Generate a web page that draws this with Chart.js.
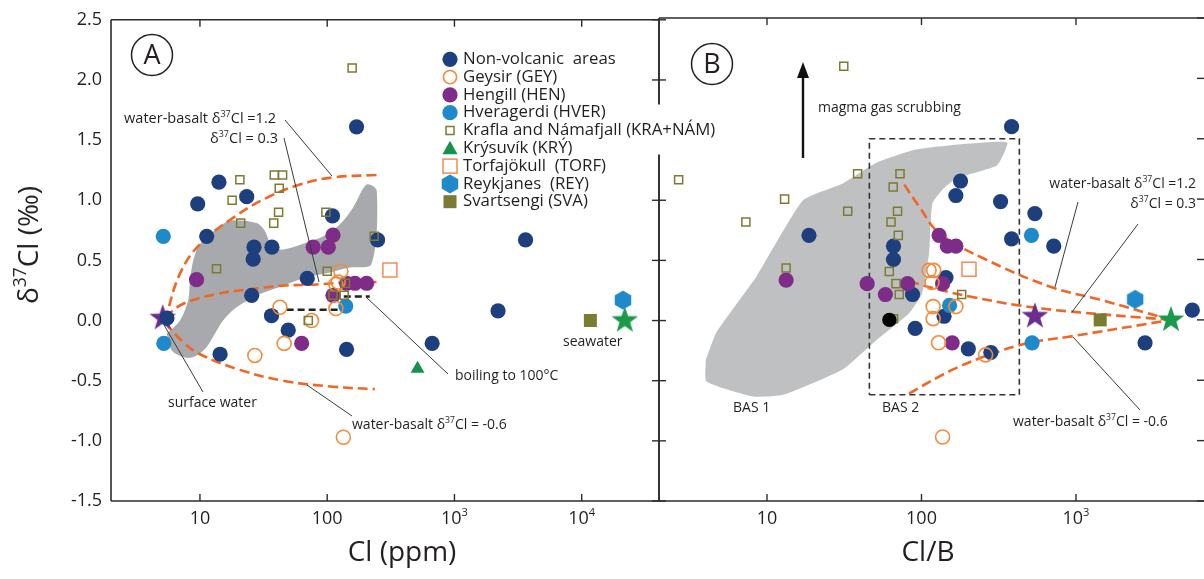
<!DOCTYPE html>
<html>
<head>
<meta charset="utf-8">
<script src="https://cdn.jsdelivr.net/npm/chart.js@4.4.1/dist/chart.umd.min.js"></script>
<style>
  body { margin: 0; background: #fff; width: 1204px; height: 579px; overflow: hidden; position: relative; }
  #wrapA { position: absolute; left: 0; top: 0; width: 730px; height: 579px; z-index: 2; }
  #wrapB { position: absolute; left: 600px; top: 0; width: 604px; height: 579px; z-index: 1; }
</style>
</head>
<body>
<div id="wrapB"><canvas id="chartB"></canvas></div>
<div id="wrapA"><canvas id="chartA"></canvas></div>
<script>
// ---------- data ----------
const yTicks = [-1.5, -1.0, -0.5, 0, 0.5, 1.0, 1.5, 2.0, 2.5];
const xTicksA = [10, 100, 1000, 10000];
const xTicksB = [10, 100, 1000];
const xTickText = { 10: ['10'], 100: ['100'], 1000: ['10', '^3'], 10000: ['10', '^4'] };

// panel A: Cl (ppm) vs d37Cl
const nonVolcanicA = [[9.6,0.97],[14.1,1.15],[23.3,1.03],[11.3,0.70],[26.6,0.61],[26.2,0.51],[36.8,0.61],[170,1.61],[110,0.87],[69.7,0.35],[249,0.67],[3620,0.67],[5.5,0.02],[25.5,0.21],[36.5,0.04],[49.4,-0.08],[14.4,-0.28],[142,-0.24],[2200,0.08],[668,-0.19]];
const geysirA = [[27,-0.29],[42.5,0.11],[45.9,-0.19],[75.3,0.0],[117,0.10],[134,-0.97],[128,0.41],[122,0.32],[117,0.30]];
const hengillA = [[9.4,0.34],[77.6,0.61],[102,0.61],[111,0.71],[142,0.31],[165,0.31],[204,0.31],[63,-0.19],[111,0.21]];
const hveragerdiA = [[5.15,0.70],[5.2,-0.19],[140,0.12]];
const kraflaA = [[157,2.10],[20.6,1.17],[17.9,1.0],[38.4,1.21],[44.6,1.21],[42,1.10],[41.5,0.90],[20.9,0.81],[38,0.81],[97.7,0.90],[234,0.70],[13.5,0.43],[100,0.41],[139,0.31],[71,0.0],[111,0.21],[136,0.21]];
const krysuvikA = [[513,-0.40]];
const torfajokullA = [[311,0.42]];
const reykjanesA = [[21100,0.17]];
const svartsengiA = [[11700,0.0]];
const surfaceWaterA = [[5.1,0.02]];
const seawaterA = [[21800,0.0]];
const mixHighA = [[5.3,0.0],[6.97,0.39],[10,0.635],[18.3,0.855],[33.4,1.02],[61.1,1.13],[111,1.19],[244,1.21]];
const mixMidA = [[5.3,0.03],[7.4,0.14],[13.5,0.22],[24.7,0.26],[45.1,0.29],[82.6,0.30],[151,0.32],[244,0.32]];
const mixLowA = [[5.3,-0.02],[7.4,-0.18],[10,-0.28],[20.6,-0.41],[44.9,-0.50],[111,-0.55],[237,-0.57]];
const boilingA1 = [[48,0.09],[126,0.09]];
const boilingA2 = [[135,0.20],[216,0.20]];
const fieldA = [[5.47,-0.11],[6.97,0],[8.09,0.17],[8.34,0.33],[8.85,0.50],[10,0.635],[13.5,0.76],[17.2,0.83],[27.9,0.81],[32.4,0.745],[35.5,0.65],[42.5,0.59],[57.5,0.62],[93,0.70],[126,0.80],[160,0.94],[204,1.13],[245,1.08],[223,0.47],[151,0.44],[105,0.40],[68.9,0.36],[45.1,0.29],[29.6,0.22],[19.4,0.11],[15.2,0],[13.1,-0.11],[11.3,-0.22],[9.42,-0.29],[7.87,-0.31],[6.03,-0.25],[5.47,-0.11]];

// panel B: Cl/B vs d37Cl
const nonVolcanicB = [[18.7,0.70],[383,1.60],[179,1.15],[167,1.03],[325,0.98],[542,0.88],[383,0.67],[718,0.61],[65.9,0.61],[65.9,0.50],[87.5,0.21],[144,0.35],[140,0.03],[91,-0.07],[201,-0.24],[281,-0.27],[2800,-0.19],[5660,0.08]];
const geysirB = [[112,0.41],[120,0.41],[117,0.31],[119,0.11],[119,0.01],[167,0.11],[129,-0.19],[260,-0.29],[137,-0.97]];
const hengillB = [[13.3,0.33],[44.5,0.30],[58.4,0.21],[81.3,0.30],[130,0.70],[147,0.61],[167,0.61],[137,0.30],[158,-0.19]];
const hveragerdiB = [[515,0.70],[520,-0.19],[152,0.12]];
const kraflaB = [[31.4,2.10],[2.68,1.16],[7.3,0.81],[13.0,1.0],[38.6,1.21],[33.3,0.90],[72.6,1.21],[65.6,1.10],[70,0.90],[63.5,0.81],[70.8,0.70],[13.3,0.43],[61.9,0.40],[68.4,0.30],[71.8,0.21],[65.9,0.01],[182,0.21]];
const torfajokullB = [[203,0.42]];
const reykjanesB = [[2415,0.17]];
const svartsengiB = [[1435,0.0]];
const blackB = [[62,0.0]];
const surfaceWaterB = [[542,0.03]];
const seawaterB = [[4120,0.0]];
const mixHighB = [[77.3,1.12],[96.4,0.94],[130,0.72],[261,0.50],[697,0.27],[1400,0.17],[4120,0.0]];
const mixMidB = [[83.2,0.32],[130,0.25],[213,0.19],[427,0.12],[897,0.07],[4120,0.0]];
const mixLowB = [[83,-0.61],[130,-0.47],[167,-0.40],[273,-0.29],[496,-0.19],[897,-0.14],[4120,0.0]];
const bas1B = [[4.02,-0.33],[4.72,-0.10],[8.55,0.36],[17.1,0.99],[30.9,1.13],[50.8,1.30],[92,1.41],[203,1.46],[359,1.47],[309,1.28],[167,1.17],[137,1.08],[118,0.97],[115,0.83],[112,0.55],[101,0.22],[83.3,0.055],[50.8,-0.17],[30.9,-0.41],[12.7,-0.62],[8.13,-0.635],[4.06,-0.51],[4.02,-0.33]];
const bas2B = [[46,-0.62],[430,-0.62],[430,1.5],[46,1.5],[46,-0.62]];

// ---------- styles ----------
const FONT = '"Open Sans", sans-serif';
const INK = '#231f20';
const NAVY = '#1d3f7d', ORANGE = '#f38b3a', PURPLE = '#7f2b88', LBLUE = '#1f8ac9';
const OLIVE = '#7c7b32', GREEN = '#16924a', TORF = '#f48a56', DASH = '#f26522';

function starImage(color) {
  const c = document.createElement('canvas'); c.width = c.height = 30;
  const g = c.getContext('2d'); g.beginPath();
  for (let i = 0; i < 10; i++) {
    const r = i % 2 ? 5.6 : 14, a = -Math.PI / 2 + i * Math.PI / 5;
    g.lineTo(15 + r * Math.cos(a), 15 + r * Math.sin(a));
  }
  g.closePath(); g.fillStyle = color; g.fill();
  return c;
}
function hexImage(color) {
  const c = document.createElement('canvas'); c.width = c.height = 22;
  const g = c.getContext('2d'); g.beginPath();
  for (let i = 0; i < 6; i++) {
    const a = -Math.PI / 2 + i * Math.PI / 3;
    g.lineTo(11 + 9.5 * Math.cos(a), 11 + 9.5 * Math.sin(a));
  }
  g.closePath(); g.fillStyle = color; g.fill();
  return c;
}
const HEX = hexImage(LBLUE);

const sty = {
  nonVolc: { pointStyle: 'circle', pointRadius: 7.6, pointBackgroundColor: NAVY, pointBorderWidth: 0 },
  geysir: { pointStyle: 'circle', pointRadius: 7, pointBackgroundColor: 'rgba(255,255,255,0)', pointBorderColor: ORANGE, pointBorderWidth: 1.6 },
  hengill: { pointStyle: 'circle', pointRadius: 7.6, pointBackgroundColor: PURPLE, pointBorderWidth: 0 },
  hver: { pointStyle: 'circle', pointRadius: 7.6, pointBackgroundColor: LBLUE, pointBorderWidth: 0 },
  krafla: { pointStyle: 'rect', pointRadius: 5.7, pointBackgroundColor: 'rgba(255,255,255,0)', pointBorderColor: OLIVE, pointBorderWidth: 1.5 },
  krysuvik: { pointStyle: 'triangle', pointRadius: 8, pointBackgroundColor: GREEN, pointBorderWidth: 0 },
  torf: { pointStyle: 'rect', pointRadius: 9.9, pointBackgroundColor: 'rgba(255,255,255,0)', pointBorderColor: TORF, pointBorderWidth: 1.5 },
  rey: { pointStyle: HEX, pointRadius: 9 },
  sva: { pointStyle: 'rect', pointRadius: 9.2, pointBackgroundColor: OLIVE, pointBorderWidth: 0 },
  black: { pointStyle: 'circle', pointRadius: 7.2, pointBackgroundColor: '#000', pointBorderWidth: 0 },
  starP: { pointStyle: starImage('#6b2d90'), pointRadius: 14 },
  starG: { pointStyle: starImage('#1a9a48'), pointRadius: 14 }
};

const pts = a => a.map(([x, y]) => ({ x, y }));
const points = (data, s) => Object.assign({ data: pts(data), showLine: false }, s);
const curve = (data, extra) => Object.assign({ data: pts(data), showLine: true, pointRadius: 0, fill: false,
  borderColor: DASH, borderWidth: 2.6, borderDash: [10, 5], tension: 0.4 }, extra || {});
const field = (data, color, tension) => ({ data: pts(data), showLine: true, pointRadius: 0, fill: 'shape',
  backgroundColor: color, borderColor: color, borderWidth: 0, tension });

// bottom-to-top drawing order
function ordered(list) { return list.map((d, i) => Object.assign(d, { order: list.length - i })); }

const datasetsA = ordered([
  field(fieldA, '#a7a9ac', 0.3),
  curve(boilingA1, { borderColor: '#222', borderDash: [7, 4], tension: 0 }),
  curve(boilingA2, { borderColor: '#222', borderDash: [7, 4], tension: 0 }),
  curve(mixHighA), curve(mixMidA), curve(mixLowA),
  points(surfaceWaterA, sty.starP), points(seawaterA, sty.starG),
  points(nonVolcanicA, sty.nonVolc), points(hveragerdiA, sty.hver), points(reykjanesA, sty.rey),
  points(svartsengiA, sty.sva), points(krysuvikA, sty.krysuvik), points(hengillA, sty.hengill),
  points(geysirA, sty.geysir), points(torfajokullA, sty.torf), points(kraflaA, sty.krafla)
]);
const datasetsB = ordered([
  field(bas1B, '#bfc0c2', 0.15),
  curve(bas2B, { borderColor: '#333', borderDash: [6, 4], borderWidth: 1.6, tension: 0 }),
  curve(mixHighB), curve(mixMidB), curve(mixLowB),
  points(surfaceWaterB, sty.starP), points(seawaterB, sty.starG),
  points(nonVolcanicB, sty.nonVolc), points(hveragerdiB, sty.hver), points(reykjanesB, sty.rey),
  points(svartsengiB, sty.sva), points(hengillB, sty.hengill), points(geysirB, sty.geysir),
  points(torfajokullB, sty.torf), points(kraflaB, sty.krafla), points(blackB, sty.black)
]);

const legendItems = [
  ['Non-volcanic  areas', 'fcircle', NAVY], ['Geysir (GEY)', 'ocircle', ORANGE], ['Hengill (HEN)', 'fcircle', PURPLE],
  ['Hveragerdi (HVER)', 'fcircle', LBLUE], ['Krafla and Námafjall (KRA+NÁM)', 'osquare', OLIVE], ['Krýsuvík (KRÝ)', 'triangle', GREEN],
  ['Torfajökull  (TORF)', 'obig', TORF], ['Reykjanes  (REY)', 'hex', LBLUE], ['Svartsengi (SVA)', 'fsquare', OLIVE]
];

// ---------- drawing helpers ----------
function drawRich(ctx, parts, x, y, align, size, color) {
  const sup = size * 0.62;
  let w = 0;
  const runs = parts.map(p => {
    const isSup = p.startsWith('^');
    const t = isSup ? p.slice(1) : p;
    ctx.font = `${isSup ? sup : size}px ${FONT}`;
    const rw = ctx.measureText(t).width;
    w += rw;
    return { t, isSup, rw };
  });
  let cx = align === 'right' ? x - w : align === 'center' ? x - w / 2 : x;
  ctx.fillStyle = color || INK; ctx.textBaseline = 'middle'; ctx.textAlign = 'left';
  runs.forEach(r => {
    ctx.font = `${r.isSup ? sup : size}px ${FONT}`;
    ctx.fillText(r.t, cx, r.isSup ? y - size * 0.32 : y);
    cx += r.rw;
  });
  return w;
}
function seg(ctx, x1, y1, x2, y2) { ctx.beginPath(); ctx.moveTo(x1, y1); ctx.lineTo(x2, y2); ctx.stroke(); }

function drawFrame(chart, o) {
  const { ctx, chartArea: a, scales } = chart;
  ctx.save();
  ctx.strokeStyle = '#2b2b2b'; ctx.lineWidth = 1.6;
  seg(ctx, a.left, a.top, a.right, a.top);
  seg(ctx, a.left, a.bottom, a.right, a.bottom);
  seg(ctx, a.left, a.top, a.left, a.bottom);
  if (o.rightLine) seg(ctx, a.right, a.top, a.right, a.bottom);
  ctx.lineWidth = 1.4;
  o.xTicks.forEach(v => {
    const px = scales.x.getPixelForValue(v);
    seg(ctx, px, a.top, px, a.top + 7);
    seg(ctx, px, a.bottom, px, a.bottom - 7);
    drawRich(ctx, xTickText[v], px, 519, 'center', 18);
  });
  yTicks.forEach(v => {
    const py = scales.y.getPixelForValue(v);
    if (o.rightLine) seg(ctx, a.right - 7, py, a.right + 7, py);
    else seg(ctx, a.right - 7, py, a.right, py);
  });
  ctx.restore();
}
function drawNotes(chart, dx, texts, leaders) {
  const ctx = chart.ctx;
  ctx.save();
  ctx.strokeStyle = '#3a3a3a'; ctx.lineWidth = 1;
  leaders.forEach(l => seg(ctx, l[0] - dx, l[1], l[2] - dx, l[3]));
  texts.forEach(t => drawRich(ctx, t.p, t.x - dx, t.y, t.a, t.s || 14));
  ctx.restore();
}
function circled(ctx, letter, x, y) {
  ctx.save();
  ctx.strokeStyle = INK; ctx.lineWidth = 1.5;
  ctx.beginPath(); ctx.arc(x, y, 20.5, 0, Math.PI * 2); ctx.stroke();
  drawRich(ctx, [letter], x, y + 1, 'center', 27);
  ctx.restore();
}
function legendMarker(ctx, kind, color, x, y) {
  ctx.fillStyle = color; ctx.strokeStyle = color;
  ctx.beginPath();
  if (kind === 'fcircle') { ctx.arc(x, y, 7.6, 0, Math.PI * 2); ctx.fill(); }
  else if (kind === 'ocircle') { ctx.lineWidth = 1.6; ctx.arc(x, y, 6.6, 0, Math.PI * 2); ctx.stroke(); }
  else if (kind === 'osquare') { ctx.lineWidth = 1.5; ctx.strokeRect(x - 4, y - 4, 8, 8); }
  else if (kind === 'triangle') { ctx.moveTo(x, y - 7.5); ctx.lineTo(x + 7.5, y + 6); ctx.lineTo(x - 7.5, y + 6); ctx.closePath(); ctx.fill(); }
  else if (kind === 'obig') { ctx.lineWidth = 1.5; ctx.strokeRect(x - 7, y - 7, 14, 14); }
  else if (kind === 'hex') { ctx.drawImage(HEX, x - 11, y - 11); }
  else if (kind === 'fsquare') { ctx.fillRect(x - 6.5, y - 6.5, 13, 13); }
}

const plotA = {
  id: 'plotA',
  afterDraw(chart) {
    const ctx = chart.ctx;
    drawFrame(chart, { xTicks: xTicksA, rightLine: true });
    drawNotes(chart, 0, [
      { p: ['water-basalt δ', '^37', 'Cl =1.2'], x: 276, y: 119, a: 'right', s: 14.5 },
      { p: ['δ', '^37', 'Cl = 0.3'], x: 278, y: 139, a: 'right', s: 14.5 },
      { p: ['surface water'], x: 168, y: 403, a: 'left' },
      { p: ['water-basalt δ', '^37', 'Cl = -0.6'], x: 352, y: 425, a: 'left' },
      { p: ['boiling to 100°C'], x: 455, y: 376, a: 'left' },
      { p: ['seawater'], x: 563, y: 342, a: 'left' }
    ], [[285, 120, 332, 176], [284, 138, 319, 282], [164, 325, 203, 392], [307, 385, 352, 416], [366, 297, 448, 374]]);
    circled(ctx, 'A', 152, 55);
    // axis titles
    ctx.save();
    ctx.translate(30, 245); ctx.rotate(-Math.PI / 2);
    drawRich(ctx, ['δ', '^37', 'Cl (‰)'], 0, 0, 'center', 28);
    ctx.restore();
    drawRich(ctx, ['Cl (ppm)'], 402, 553, 'center', 28);
    // legend
    ctx.save();
    legendItems.forEach((it, i) => {
      const y = 59.3 + 17.8 * i;
      if (i === 4) { ctx.fillStyle = '#fff'; ctx.fillRect(650, y - 26, 18, 50); }
      legendMarker(ctx, it[1], it[2], 450, y);
      drawRich(ctx, [it[0]], 463, y, 'left', 16.8);
    });
    ctx.restore();
  }
};
const plotB = {
  id: 'plotB',
  afterDraw(chart) {
    const ctx = chart.ctx, dx = 600;
    drawFrame(chart, { xTicks: xTicksB, rightLine: false });
    drawNotes(chart, dx, [
      { p: ['magma gas scrubbing'], x: 818, y: 108, a: 'left' },
      { p: ['BAS 1'], x: 733, y: 408, a: 'left' },
      { p: ['BAS 2'], x: 882, y: 408, a: 'left' },
      { p: ['water-basalt δ', '^37', 'Cl =1.2'], x: 1196, y: 184, a: 'right' },
      { p: ['δ', '^37', 'Cl = 0.3'], x: 1196, y: 204, a: 'right' },
      { p: ['water-basalt δ', '^37', 'Cl = -0.6'], x: 1013, y: 422, a: 'left' }
    ], [[1078, 202, 1055, 287], [1138, 224, 1072, 312], [1073, 337, 1140, 410]]);
    circled(ctx, 'B', 712 - dx, 64);
    // arrow
    ctx.save();
    ctx.strokeStyle = '#111'; ctx.fillStyle = '#111'; ctx.lineWidth = 2.4;
    seg(ctx, 803 - dx, 158, 803 - dx, 72);
    ctx.beginPath(); ctx.moveTo(803 - dx, 62); ctx.lineTo(809 - dx, 78); ctx.lineTo(797 - dx, 78); ctx.closePath(); ctx.fill();
    ctx.restore();
    drawRich(ctx, ['Cl/B'], 928 - dx, 553, 'center', 28);
  }
};

function makeChart(id, datasets, xMin, xMax, xTicks, padLeft, padRight, showY, plugin) {
  return new Chart(document.getElementById(id), {
    type: 'scatter',
    data: { datasets },
    options: {
      responsive: true, maintainAspectRatio: false, animation: false, events: [],
      layout: { autoPadding: false, padding: { top: 18, left: padLeft, right: padRight, bottom: 0 } },
      plugins: { legend: { display: false }, tooltip: { enabled: false } },
      scales: {
        x: {
          type: 'logarithmic', min: xMin, max: xMax, bounds: 'data',
          afterBuildTicks: s => { s.ticks = xTicks.map(v => ({ value: v })); },
          ticks: { display: false },
          grid: { display: false, drawTicks: false }, border: { display: false },
          afterFit: s => { s.height = 78; }
        },
        y: {
          type: 'linear', min: -1.5, max: 2.5, display: showY,
          afterBuildTicks: s => { s.ticks = yTicks.map(v => ({ value: v })); },
          ticks: { padding: 9, color: INK, font: { family: FONT, size: 18 }, callback: v => v.toFixed(1) },
          grid: { display: false, drawTicks: false }, border: { display: false },
          afterFit: s => { s.width = showY ? 111 : 0; }
        }
      }
    },
    plugins: [plugin]
  });
}

makeChart('chartB', datasetsB, 2, 6740, xTicksB, 59, 0, false, plotB);
makeChart('chartA', datasetsA, 2, 40500, xTicksA, 0, 71, true, plotA);
</script>
</body>
</html>
